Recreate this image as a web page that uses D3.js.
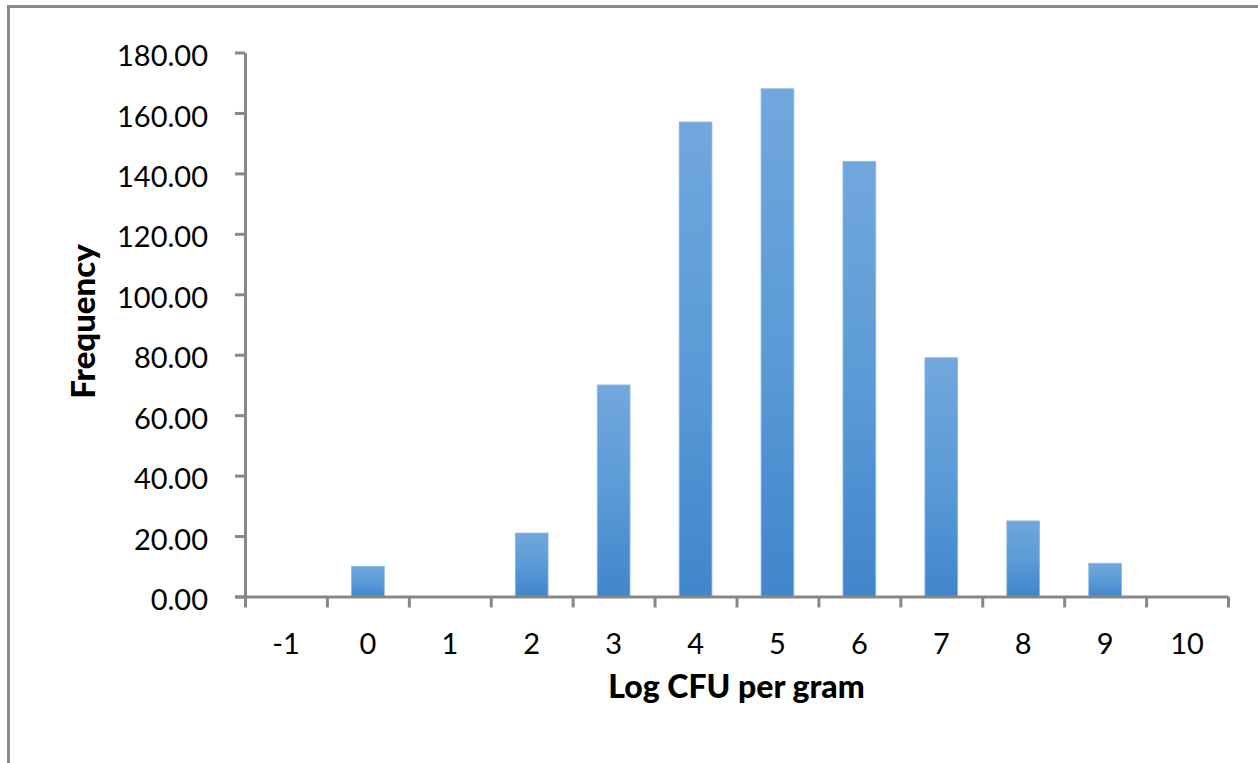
<!DOCTYPE html>
<html>
<head>
<meta charset="utf-8">
<script src="https://cdn.jsdelivr.net/npm/d3@7"></script>
<style>
  html, body { margin: 0; padding: 0; background: #fff; }
  svg { display: block; }
  text { font-family: Lato, "Open Sans", sans-serif; fill: #000; }
</style>
</head>
<body>
<svg id="chart" width="1258" height="763"></svg>
<script>
const categories = ["-1", "0", "1", "2", "3", "4", "5", "6", "7", "8", "9", "10"];
const frequencies = [0, 10, 0, 21, 70, 157, 168, 144, 79, 25, 11, 0];
const yTicks = [0, 20, 40, 60, 80, 100, 120, 140, 160, 180];
const xTitle = "Log CFU per gram";
const yTitle = "Frequency";

(function () {
const svg = d3.select("#chart");
const W = 1258, H = 763;
const pLeft = 245, pRight = 1228, pTop = 52.5, pBottom = 596.5;
const axisColor = "#878787";

svg.append("rect").attr("width", W).attr("height", H).attr("fill", "#fff");
// outer chart border (only left/top visible)
svg.append("rect")
  .attr("x", 8.5).attr("y", 6.5)
  .attr("width", W + 20).attr("height", H + 20)
  .attr("fill", "none").attr("stroke", "#8a8a8a").attr("stroke-width", 3);

const defs = svg.append("defs");
const grad = defs.append("linearGradient").attr("id", "barGrad")
  .attr("x1", 0).attr("y1", 0).attr("x2", 0).attr("y2", 1);
grad.append("stop").attr("offset", "0%").attr("stop-color", "#71a7dd");
grad.append("stop").attr("offset", "50%").attr("stop-color", "#5b9bd7");
grad.append("stop").attr("offset", "100%").attr("stop-color", "#4186cb");

const x = d3.scaleBand().domain(categories).range([pLeft, pRight])
  .paddingInner(0.6).paddingOuter(0.3);
const y = d3.scaleLinear().domain([0, 180]).range([pBottom, pTop]);
const xEdge = d3.scaleLinear().domain([0, categories.length]).range([pLeft, pRight]);

// bars
svg.append("g").selectAll("rect").data(categories).join("rect")
  .attr("x", d => x(d))
  .attr("width", x.bandwidth())
  .attr("y", (d, i) => y(frequencies[i]))
  .attr("height", (d, i) => y(0) - y(frequencies[i]))
  .attr("fill", "url(#barGrad)")
  .attr("stroke", "#8db9e4").attr("stroke-width", 0.8)
  .attr("display", (d, i) => frequencies[i] > 0 ? null : "none");

// y axis
const yAxis = svg.append("g").attr("transform", `translate(${pLeft},0)`)
  .call(d3.axisLeft(y).tickValues(yTicks).tickFormat(d3.format(".2f"))
    .tickSize(10).tickSizeOuter(0).tickPadding(27));
yAxis.select(".domain").attr("stroke", axisColor).attr("stroke-width", 3);
yAxis.selectAll(".tick line").attr("stroke", axisColor).attr("stroke-width", 3);
yAxis.selectAll(".tick text")
  .attr("font-family", "Lato, 'Open Sans', sans-serif")
  .attr("font-size", 29).attr("fill", "#000").attr("dy", "0.45em");

// x axis (ticks at category boundaries)
const xAxis = svg.append("g").attr("transform", `translate(0,${pBottom})`)
  .call(d3.axisBottom(xEdge).tickValues(d3.range(0, categories.length + 1))
    .tickFormat("").tickSize(11).tickSizeOuter(0));
xAxis.select(".domain").attr("stroke", axisColor).attr("stroke-width", 3)
  .attr("d", `M${pLeft - 10},0.5H${pRight}`);
xAxis.selectAll(".tick line").attr("stroke", axisColor).attr("stroke-width", 3);

// x labels
svg.append("g").selectAll("text").data(categories).join("text")
  .attr("x", d => x(d) + x.bandwidth() / 2)
  .attr("y", 654)
  .attr("text-anchor", "middle")
  .attr("font-size", 29)
  .text(d => d);

// axis titles
svg.append("text")
  .attr("x", (pLeft + pRight) / 2).attr("y", 698)
  .attr("text-anchor", "middle")
  .attr("font-size", 32).attr("font-weight", 900)
  .text(xTitle);

svg.append("text")
  .attr("transform", `translate(95,${(pTop + pBottom) / 2 - 3}) rotate(-90)`)
  .attr("text-anchor", "middle")
  .attr("font-size", 33).attr("font-weight", 900)
  .text(yTitle);
})();
</script>
</body>
</html>
